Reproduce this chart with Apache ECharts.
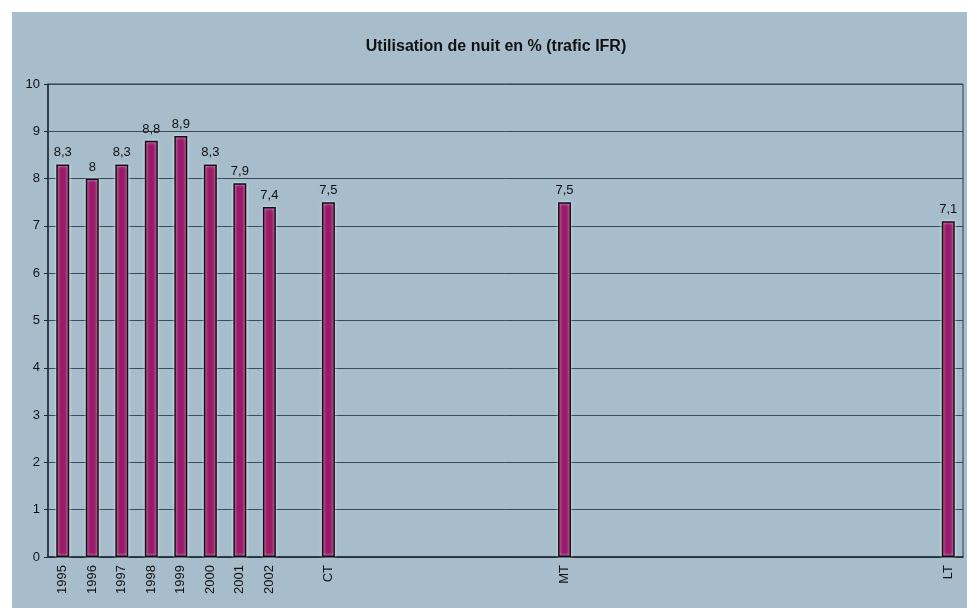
<!DOCTYPE html>
<html>
<head>
<meta charset="utf-8">
<script src="https://cdn.jsdelivr.net/npm/echarts@6/dist/echarts.min.js"></script>
<style>
html,body{margin:0;padding:0;background:#fff;}
#c{width:967px;height:610px;}
</style>
</head>
<body>
<div id="c"></div>
<script>
// Category slots along the axis ('' = empty slot)
var categories = ['1995','1996','1997','1998','1999','2000','2001','2002','','CT','','','','','','','','MT','','','','','','','','','','','','','LT'];
// Night-time usage in % (IFR traffic); null = empty slot
var values = [8.3, 8, 8.3, 8.8, 8.9, 8.3, 7.9, 7.4, null, 7.5, null, null, null, null, null, null, null, 7.5, null, null, null, null, null, null, null, null, null, null, null, null, 7.1];
var yTicks = [0,1,2,3,4,5,6,7,8,9,10];
var titleText = 'Utilisation de nuit en % (trafic IFR)';

var chart = echarts.init(document.getElementById('c'));
var font = 'Liberation Sans, Arial, sans-serif';
chart.setOption({
  backgroundColor: '#ffffff',
  animation: false,
  graphic: [{
    type: 'rect', z: -10, silent: true,
    shape: {x: 12, y: 12, width: 955, height: 596},
    style: {fill: '#a7bdcc'}
  }],
  title: {
    text: titleText, left: 491, top: 34, textAlign: 'center',
    textStyle: {fontFamily: font, fontSize: 16, fontWeight: 'bold', color: '#111'}
  },
  grid: {
    left: 48, top: 84, right: 4, bottom: 53,
    show: true, borderColor: '#2c3a44', borderWidth: 1, backgroundColor: 'transparent'
  },
  xAxis: {
    type: 'category', data: categories, boundaryGap: true,
    axisLine: {lineStyle: {color: '#1e2a32', width: 1.5}},
    axisTick: {show: false},
    axisLabel: {interval: 0, rotate: 90, margin: 8, fontFamily: font, fontSize: 13, color: '#111'}
  },
  yAxis: {
    type: 'value', min: yTicks[0], max: yTicks[yTicks.length-1], interval: 1,
    axisLine: {show: true, lineStyle: {color: '#1e2a32', width: 1.5}},
    axisTick: {show: true, length: 4, lineStyle: {color: '#1e2a32'}},
    axisLabel: {fontFamily: font, fontSize: 13, color: '#111', margin: 8},
    splitLine: {lineStyle: {color: '#3a4a55', width: 1}}
  },
  series: [{
    type: 'bar', data: values, barWidth: '44%',
    itemStyle: {color: '#9a1a68', borderColor: '#1a0a14', borderWidth: 1.5,
      shadowColor: 'rgba(220,248,255,0.9)', shadowBlur: 3},
    label: {
      show: true, position: 'top', distance: 5,
      fontFamily: font, fontSize: 13, color: '#111',
      formatter: function(p){ return p.value == null ? '' : String(p.value).replace('.', ','); }
    }
  }]
});
</script>
</body>
</html>
